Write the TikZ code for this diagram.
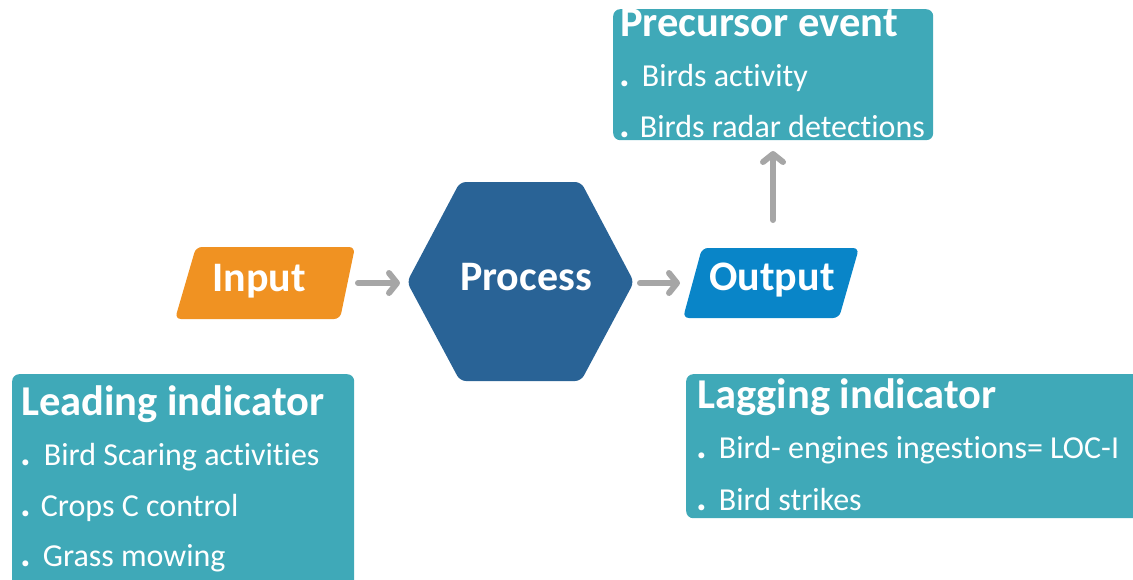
\documentclass[tikz,border=0pt]{standalone}
\usepackage{fontspec}
\setmainfont[Ligatures=NoCommon]{Carlito}
\usetikzlibrary{arrows.meta}
\definecolor{teal}{RGB}{63,169,184}
\definecolor{inorange}{RGB}{240,146,34}
\definecolor{procblue}{RGB}{41,99,150}
\definecolor{outblue}{RGB}{9,133,200}
\definecolor{arrowgray}{RGB}{166,166,166}
\tikzset{
  infobox/.style={fill=teal, rounded corners=7pt, inner sep=0pt, anchor=north west},
  head/.style={text=white, anchor=base west, inner sep=0pt, font=\fontsize{42.5}{50}\selectfont\bfseries},
  item/.style={text=white, anchor=base west, inner sep=0pt, font=\fontsize{32}{38}\selectfont},
  shapelabel/.style={text=white, anchor=base, inner sep=0pt, font=\fontsize{42}{50}\selectfont\bfseries},
  flow/.style={draw=arrowgray, line width=6pt, line cap=round,
    -{Straight Barb[round,length=8pt,width=20pt]}},
}
% bullet dot followed by a gap of the given width
\newcommand{\bul}[1]{{\fontsize{40}{40}\selectfont\textbf{.}}\hspace{#1}}
\begin{document}
\begin{tikzpicture}[x=1pt,y=-1pt]
\clip (0,0) rectangle (1133,579);

% information boxes
\node[infobox, minimum width=320pt, minimum height=131pt] (prec) at (613,9) {};
\node[infobox, minimum width=342pt, minimum height=230pt] (lead) at (12,374) {};
\node[infobox, minimum width=470pt, minimum height=144pt] (lag) at (686,374) {};

\node[head] (precT) at (620,36) {Precursor event};
\node[item] (prec1) at (619,86.5) {\bul{12pt}Birds activity};
\node[item] (prec2) at (619,137) {\bul{10pt}Birds radar detections};

\node[head] (leadT) at (21,415) {Leading indicator};
\node[item] (lead1) at (20,465) {\bul{13pt}Bird Scaring activities};
\node[item] (lead2) at (20,516) {\bul{10pt}Crops C control};
\node[item] (lead3) at (20,566) {\bul{12pt}Grass mowing};

\node[head] (lagT) at (697,408) {Lagging indicator};
\node[item] (lag1) at (696,458) {\bul{12pt}Bird- engines ingestions= LOC-I};
\node[item] (lag2) at (696,510) {\bul{12pt}Bird strikes};

% flow shapes
\fill[inorange, rounded corners=6pt] (196,247) -- (355,247) -- (340,319) -- (175,319) -- cycle;
\fill[procblue, rounded corners=6pt] (460,182) -- (581,182) -- (634,282) -- (581,381) -- (460,381) -- (407,282) -- cycle;
\fill[outblue, rounded corners=6pt] (702,248) -- (859,248) -- (839,318) -- (683,318) -- cycle;

\node[shapelabel] (input) at (259,291.5) {Input};
\node[shapelabel] (process) at (526,290) {Process};
\node[shapelabel] (output) at (772,290) {Output};

% connectors
\coordinate (inE) at (358,283);
\coordinate (procW) at (400,283);
\coordinate (procE) at (640,283);
\coordinate (outW) at (680,283);
\coordinate (outN) at (773,220);
\coordinate (precS) at (773,151);
\draw[flow] (inE) -- (procW);
\draw[flow] (procE) -- (outW);
\draw[flow] (outN) -- (precS);
\end{tikzpicture}
\end{document}
